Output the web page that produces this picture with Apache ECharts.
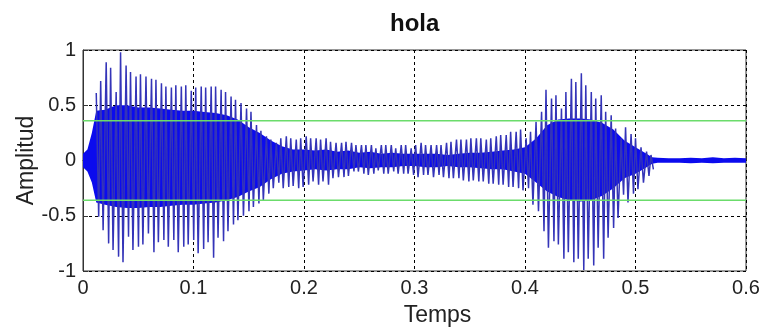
<!DOCTYPE html>
<html>
<head>
<meta charset="utf-8">
<script src="https://cdn.jsdelivr.net/npm/echarts@6/dist/echarts.min.js"></script>
<style>
html, body { margin: 0; padding: 0; background: #fff; }
#chart { width: 761px; height: 329px; }
</style>
</head>
<body>
<div id="chart"></div>
<script>
// pitch spikes of the waveform: time (s), positive peak, negative peak
const spikeT = [
  .012, .016, .021, .025, .030, .034, .039, .043, .048, .052, .057, .062, .066, .071, .075, .080, .084, .089, .093, .098,
  .102, .107, .111, .116, .120, .125, .129, .134, .138, .143, .148, .152, .157, .161, .166, .170, .175,
  .179, .184, .188, .193, .197, .202, .206, .211, .215, .220, .224, .229, .234, .238, .243, .247, .252, .256, .261, .265,
  .270, .274, .279, .283, .288, .292, .297, .301, .306, .310, .315, .320, .324, .329, .333, .338, .342, .347, .351, .356,
  .360, .365, .369, .374, .378, .383, .387, .392, .396,
  .401, .405, .410, .415, .419, .424, .428, .433, .437, .442, .446, .451, .455, .460, .464, .469, .473, .478, .482, .487,
  .491, .496, .500, .505, .510, .514
]
const spikeHi = [
  .61, .72, .89, .84, .62, .98, .86, .80, .76, .78, .76, .74, .73, .70, .67, .66, .68, .67, .68, .63,
  .66, .67, .66, .67, .67, .64, .62, .58, .55, .52, .47, .44, .32, .27, .22, .19, .16,
  .20, .22, .20, .19, .20, .22, .20, .20, .19, .20, .17, .16, .16, .17, .16, .14, .14, .14, .14, .11,
  .14, .14, .14, .11, .14, .14, .11, .14, .16, .14, .14, .14, .14, .16, .17, .19, .19, .19, .20, .20,
  .20, .19, .20, .22, .23, .23, .26, .26, .28,
  .20, .26, .35, .44, .64, .56, .59, .47, .62, .74, .71, .79, .68, .62, .56, .59, .44, .41, .29, .20,
  .30, .24, .20, .12, .08, .05
]
const spikeLo = [
  -.51, -.63, -.75, -.81, -.87, -.92, -.69, -.81, -.78, -.76, -.66, -.83, -.74, -.72, -.78, -.72, -.83, -.78, -.76, -.72,
  -.84, -.80, -.74, -.88, -.70, -.73, -.64, -.58, -.54, -.50, -.46, -.42, -.39, -.36, -.30, -.25, -.20,
  -.25, -.24, -.23, -.25, -.24, -.22, -.19, -.22, -.19, -.22, -.16, -.15, -.15, -.14, -.10, -.10, -.12, -.13, -.12, -.09,
  -.12, -.12, -.10, -.12, -.12, -.12, -.13, -.15, -.13, -.13, -.15, -.13, -.15, -.16, -.16, -.16, -.18, -.19, -.18, -.19,
  -.19, -.21, -.21, -.22, -.22, -.24, -.24, -.25, -.27,
  -.25, -.40, -.46, -.64, -.79, -.73, -.76, -.89, -.83, -.92, -.89, -.99, -.89, -.95, -.79, -.89, -.70, -.61, -.52, -.31,
  -.38, -.30, -.26, -.20, -.14, -.08
]

// dense part of the signal (envelope)
const coreT = [
  0, .004, .008, .012, .02, .03, .04, .05, .06, .07, .08, .09, .10, .11, .12, .13, .14, .15, .16, .17,
  .18, .19, .20, .21, .22, .23, .24, .25, .26, .27, .28, .29, .30, .31, .32, .33, .34, .35, .36, .37,
  .38, .39, .40, .41, .42, .43, .44, .45, .46, .47, .48, .49, .50, .51, .515, .52, .53, .54, .55, .56,
  .57, .58, .59, .60
]
const coreHi = [
  .06, .10, .25, .45, .46, .50, .50, .48, .48, .47, .46, .45, .45, .44, .43, .41, .37, .30, .25, .18,
  .13, .10, .10, .09, .10, .08, .09, .07, .08, .06, .07, .06, .06, .06, .06, .05, .06, .07, .07, .08,
  .09, .10, .12, .20, .32, .37, .38, .38, .37, .34, .28, .18, .12, .06, .03, .025, .02, .02, .025, .02,
  .03, .02, .025, .02
]
const coreLo = [
  -.06, -.10, -.20, -.38, -.40, -.42, -.43, -.43, -.42, -.42, -.41, -.40, -.40, -.39, -.38, -.36, -.33, -.28, -.24, -.17,
  -.12, -.10, -.09, -.08, -.09, -.08, -.08, -.06, -.07, -.06, -.06, -.05, -.05, -.06, -.06, -.05, -.06, -.06, -.07, -.08,
  -.08, -.10, -.12, -.20, -.28, -.33, -.36, -.37, -.36, -.32, -.25, -.16, -.12, -.06, -.03, -.02, -.02, -.02, -.025, -.02,
  -.025, -.02, -.02, -.02
]

// green threshold lines
const thresholds = [0.36, -0.36]

const font = "'Liberation Sans', Arial, sans-serif"
const halfPeriod = 0.0022

const wave = []
spikeT.forEach((t, i) => {
  wave.push([t, spikeHi[i]])
  wave.push([t + halfPeriod, spikeLo[i]])
})

const chart = echarts.init(document.getElementById('chart'))
chart.setOption({
  animation: false,
  title: {
    text: 'hola',
    left: 385,
    top: 7,
    textStyle: { fontFamily: font, fontSize: 24, fontWeight: 'bold', color: '#111' }
  },
  grid: {
    left: 83, right: 15, top: 50, bottom: 58,
    outerBoundsMode: 'none',
    show: true, borderColor: '#333', borderWidth: 1
  },
  xAxis: {
    type: 'value',
    min: 0, max: 0.6, interval: 0.1,
    name: 'Temps',
    nameLocation: 'middle',
    nameGap: 33,
    nameMoveOverlap: false,
    nameTextStyle: { fontFamily: font, fontSize: 23, color: '#222', padding: [0, 0, 0, 46] },
    axisLine: { show: true, lineStyle: { color: '#333' } },
    axisTick: { inside: true, length: 5, lineStyle: { color: '#333' } },
    axisLabel: { fontFamily: font, fontSize: 20, color: '#222', margin: 7 },
    splitLine: { show: true, lineStyle: { color: '#000', type: [3, 3], width: 1 } }
  },
  yAxis: {
    type: 'value',
    min: -1, max: 1, interval: 0.5,
    name: 'Amplitud',
    nameLocation: 'middle',
    nameGap: 45,
    nameMoveOverlap: false,
    nameTextStyle: { fontFamily: font, fontSize: 23, color: '#222' },
    axisLine: { show: true, lineStyle: { color: '#333' } },
    axisTick: { inside: true, length: 5, lineStyle: { color: '#333' } },
    axisLabel: { fontFamily: font, fontSize: 20, color: '#222', margin: 7 },
    splitLine: { show: true, lineStyle: { color: '#000', type: [3, 3], width: 1 } }
  },
  series: [
    {
      type: 'line',
      data: wave,
      symbol: 'none',
      lineStyle: { color: '#3434b8', width: 1.5 }
    },
    {
      type: 'custom',
      data: coreT.map((t, i) => [t, coreHi[i], coreLo[i]]),
      encode: { x: 0, y: [1, 2] },
      renderItem: function (params, api) {
        if (params.dataIndex !== 0) return null
        const pts = []
        coreT.forEach((t, i) => pts.push(api.coord([t, coreHi[i]])))
        for (let i = coreT.length - 1; i >= 0; i--) pts.push(api.coord([coreT[i], coreLo[i]]))
        return { type: 'polygon', shape: { points: pts }, style: { fill: '#0b0bee' } }
      }
    },
    ...thresholds.map(v => ({
      type: 'line',
      data: [[0, v], [0.6, v]],
      symbol: 'none',
      lineStyle: { color: '#6bdc6b', width: 1.5 }
    }))
  ]
})
</script>
</body>
</html>
